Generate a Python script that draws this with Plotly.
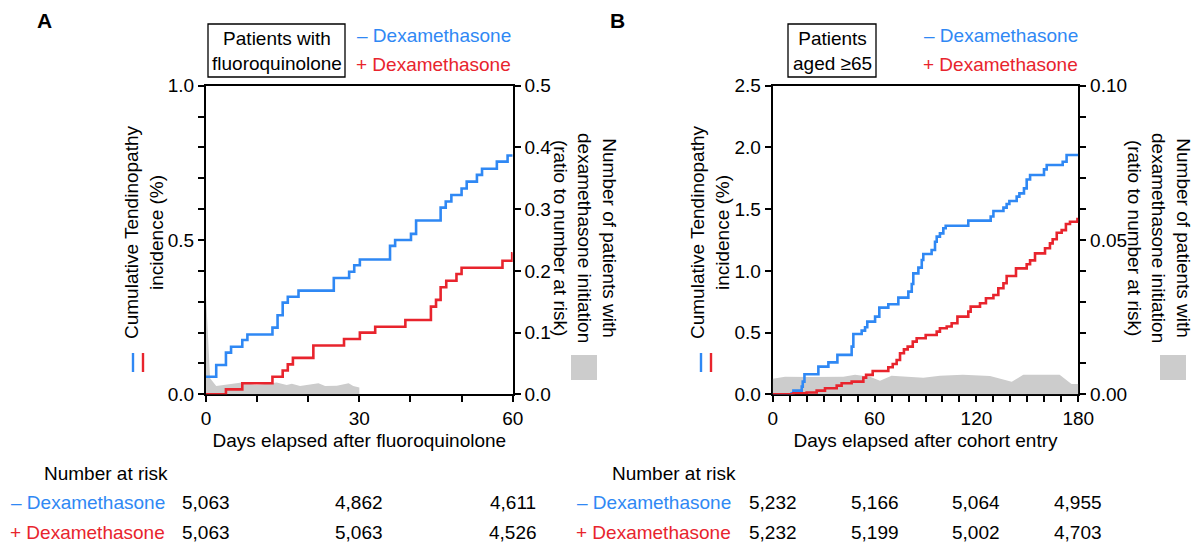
import plotly.graph_objects as go

# ---------------- Data ----------------
# Panel A: patients with fluoroquinolone (days 0-60)
a_minus_days = [0, 2, 3.9, 4.9, 7.1, 8.1, 13, 14, 15, 16, 18.1, 25, 28, 29, 30.1, 36, 37, 40.1, 41.1,
                45.9, 46.9, 48, 50, 51, 53, 54, 56.9, 59, 60]
a_minus_vals = [0.057, 0.095, 0.135, 0.154, 0.176, 0.194, 0.216, 0.256, 0.297, 0.316, 0.336, 0.377, 0.397,
                0.418, 0.437, 0.481, 0.5, 0.52, 0.563, 0.605, 0.625, 0.646, 0.667, 0.689, 0.711, 0.731,
                0.754, 0.774, 0.774]
a_plus_days = [0, 3.9, 7.1, 13, 15, 16, 17, 21, 27, 30.1, 33.1, 39, 44, 45, 45.9, 47, 49, 50, 58, 59.9, 60]
a_plus_vals = [0, 0.016, 0.036, 0.057, 0.077, 0.097, 0.118, 0.158, 0.179, 0.2, 0.219, 0.241, 0.284, 0.306,
               0.347, 0.368, 0.39, 0.41, 0.433, 0.457, 0.457]
a_init_days = [0, 0.8, 2, 3.4, 7, 9.9, 13.8, 15.8, 16.8, 18.4, 22, 23.3, 25.6, 27.9, 28.8, 30]
a_init_vals = [0.16, 0.026, 0.0135, 0.015, 0.019, 0.015, 0.019, 0.015, 0.017, 0.0135, 0.018, 0.0135,
               0.014, 0.018, 0.0135, 0.011]

# Panel B: patients aged >=65 (days 0-180)
b_minus_days = [0, 11.2, 12.2, 17.1, 17.7, 18.7, 26.9, 32.8, 38.1, 46.5, 47.5, 52.4, 54.4, 55.7, 60.3,
                62.8, 68.1, 74.0, 79.9, 81.9, 82.8, 85.8, 87.8, 88.7, 93.6, 95.6, 96.6, 98.5, 100.5,
                101.9, 115.2, 128.4, 130.0, 135.9, 137.8, 139.4, 143.7, 145.3, 148.0, 149.6, 151.6,
                159.8, 161.4, 170.8, 173.1, 180]
b_minus_vals = [0, 0.008, 0.03, 0.062, 0.103, 0.162, 0.224, 0.259, 0.319, 0.386, 0.489, 0.516, 0.543,
                0.589, 0.629, 0.702, 0.729, 0.783, 0.832, 0.894, 0.98, 1.026, 1.088, 1.137, 1.169, 1.236,
                1.277, 1.304, 1.345, 1.366, 1.407, 1.44, 1.485, 1.512, 1.542, 1.566, 1.601, 1.628, 1.668,
                1.74, 1.776, 1.822, 1.857, 1.884, 1.938, 1.938]
b_plus_days = [0, 12.2, 20, 25.9, 30.8, 37.7, 40.6, 46.5, 53.4, 55, 58.9, 68.1, 70.7, 73, 75, 77.3, 79.5,
               82.5, 84.8, 90.1, 96.6, 98.5, 102.5, 105.4, 108.8, 115.2, 116.6, 122.1, 125.6, 130,
               132.9, 135.9, 137.8, 143.3, 149.6, 151.6, 154.5, 160.4, 163.3, 164.9, 167.3, 170.2,
               172.7, 175.1, 179.5, 180]
b_plus_vals = [0, 0.008, 0.014, 0.03, 0.049, 0.07, 0.089, 0.103, 0.135, 0.157, 0.189, 0.219, 0.246,
               0.278, 0.332, 0.364, 0.386, 0.427, 0.454, 0.481, 0.508, 0.535, 0.549, 0.575, 0.629, 0.67,
               0.71, 0.737, 0.778, 0.805, 0.859, 0.9, 0.958, 1.02, 1.053, 1.085, 1.142, 1.183, 1.223,
               1.256, 1.309, 1.33, 1.38, 1.398, 1.42, 1.42]
b_init_days = [0, 7.3, 22, 41.6, 48.5, 57.3, 63.2, 70, 88.7, 98.5, 112, 128, 140.8, 147.6, 169, 176, 180]
b_init_vals = [0.005, 0.0057, 0.0056, 0.0057, 0.0063, 0.0057, 0.0044, 0.006, 0.0054, 0.006, 0.0063,
               0.0059, 0.0041, 0.0063, 0.0063, 0.0033, 0.0033]

# Number at risk tables
risk_a_days = [0, 30, 60]
risk_a_minus = ["5,063", "4,862", "4,611"]
risk_a_plus = ["5,063", "5,063", "4,526"]
risk_b_days = [0, 60, 120, 180]
risk_b_minus = ["5,232", "5,166", "5,064", "4,955"]
risk_b_plus = ["5,232", "5,199", "5,002", "4,703"]

# ---------------- Style ----------------
W, H = 1200, 545
BLUE = "#2F88F4"
RED = "#E8242D"
GRAY = "#CCCCCC"
FONT = "Liberation Sans, Arial, Helvetica, sans-serif"
FS = 19


def px(x):
    return x / W


def py(y):
    return 1 - y / H


fig = go.Figure()

# Panel A
fig.add_trace(go.Scatter(x=a_init_days, y=a_init_vals, mode="lines", fill="tozeroy",
                         line=dict(width=0, color=GRAY), fillcolor=GRAY, xaxis="x", yaxis="y",
                         showlegend=False, hoverinfo="skip"))
fig.add_trace(go.Scatter(x=a_minus_days, y=a_minus_vals, mode="lines", line=dict(color=BLUE, width=2.6, shape="hv"),
                         xaxis="x", yaxis="y2", showlegend=False))
fig.add_trace(go.Scatter(x=a_plus_days, y=a_plus_vals, mode="lines", line=dict(color=RED, width=2.6, shape="hv"),
                         xaxis="x", yaxis="y2", showlegend=False))
# Panel B
fig.add_trace(go.Scatter(x=b_init_days, y=b_init_vals, mode="lines", fill="tozeroy",
                         line=dict(width=0, color=GRAY), fillcolor=GRAY, xaxis="x2", yaxis="y3",
                         showlegend=False, hoverinfo="skip"))
fig.add_trace(go.Scatter(x=b_minus_days, y=b_minus_vals, mode="lines", line=dict(color=BLUE, width=2.6, shape="hv"),
                         xaxis="x2", yaxis="y4", showlegend=False))
fig.add_trace(go.Scatter(x=b_plus_days, y=b_plus_vals, mode="lines", line=dict(color=RED, width=2.6, shape="hv"),
                         xaxis="x2", yaxis="y4", showlegend=False))

dom_y = [py(394.3), py(85.7)]
dom_ax = [px(206), px(512.7)]
dom_bx = [px(772.7), px(1078.3)]

common = dict(showgrid=False, zeroline=False, showline=True, linecolor="black", linewidth=2,
              ticks="outside", ticklen=6, tickwidth=1.6, tickcolor="black", automargin=False,
              tickfont=dict(family=FONT, size=FS, color="black"), layer="below traces")


def minor(d):
    return dict(dtick=d, ticks="outside", ticklen=6, tickwidth=1.6, tickcolor="black", showgrid=False)


fig.update_layout(
    width=W, height=H, margin=dict(l=0, r=0, t=0, b=0, pad=0, autoexpand=False), autosize=False,
    paper_bgcolor="white", plot_bgcolor="rgba(0,0,0,0)", showlegend=False,
    font=dict(family=FONT, size=FS, color="black"),
    xaxis=dict(domain=dom_ax, anchor="y", range=[0, 60], tick0=0, dtick=30, minor=minor(10), mirror=True,
               title=dict(text="Days elapsed after fluoroquinolone", font=dict(family=FONT, size=FS), standoff=6),
               **common),
    yaxis=dict(domain=dom_y, anchor="x", side="right", range=[0, 0.5], tick0=0, dtick=0.1, tickformat=".1f",
               **common),
    yaxis2=dict(domain=dom_y, anchor="x", overlaying="y", side="left", range=[0, 1.0], tick0=0, dtick=0.5,
                tickformat=".1f", minor=minor(0.1), **common),
    xaxis2=dict(domain=dom_bx, anchor="y3", range=[0, 180], tick0=0, dtick=60, minor=minor(10), mirror=True,
                title=dict(text="Days elapsed after cohort entry", font=dict(family=FONT, size=FS), standoff=6),
                **common),
    yaxis3=dict(domain=dom_y, anchor="x2", side="right", range=[0, 0.1], tick0=0, dtick=0.05, tickformat=".2f",
                minor=minor(0.01), **common),
    yaxis4=dict(domain=dom_y, anchor="x2", overlaying="y3", side="left", range=[0, 2.5], tick0=0, dtick=0.5,
                tickformat=".1f", **common),
)

ann = []
shapes = []


def text(x, y, s, color="black", size=FS, xanchor="center", angle=0, bold=False, xref="paper"):
    ann.append(dict(x=x, y=py(y), xref=xref, yref="paper", text=("<b>%s</b>" % s) if bold else s,
                    showarrow=False, xanchor=xanchor, yanchor="middle", textangle=angle,
                    font=dict(family=FONT, size=size, color=color)))


# Panel letters
text(px(44), 21, "A", size=21, bold=True)
text(px(617), 21, "B", size=21, bold=True)

# Boxes with cohort labels
for (x0, x1, label) in [(208, 345, "Patients with<br>fluoroquinolone"), (788, 876, "Patients<br>aged ≥65")]:
    shapes.append(dict(type="rect", xref="paper", yref="paper", x0=px(x0), x1=px(x1), y0=py(77), y1=py(24),
                       line=dict(color="black", width=1.3), fillcolor="white"))
    text(px((x0 + x1) / 2), 51, label)

# Legends
for xr in (513, 1080):
    text(px(xr), 35, "– Dexamethasone", color=BLUE, xanchor="right")
    text(px(xr), 64, "+ Dexamethasone", color=RED, xanchor="right")

# Left y titles with colored bars
for (xc, bx) in [(144, 133), (710, 701)]:
    text(px(xc), 232, "Cumulative Tendinopathy<br>incidence (%)", angle=-90)
    shapes.append(dict(type="line", xref="paper", yref="paper", x0=px(bx), x1=px(bx), y0=py(353), y1=py(372),
                       line=dict(color=BLUE, width=2.4)))
    shapes.append(dict(type="line", xref="paper", yref="paper", x0=px(bx + 10), x1=px(bx + 10), y0=py(353),
                       y1=py(372), line=dict(color=RED, width=2.4)))

# Right y titles with gray squares
for (xc, sx) in [(585, 571), (1159, 1160)]:
    text(px(xc), 238, "Number of patients with<br>dexamethasone initiation<br>(ratio to number at risk)", angle=90)
    shapes.append(dict(type="rect", xref="paper", yref="paper", x0=px(sx), x1=px(sx + 26), y0=py(380), y1=py(355),
                       line=dict(width=0), fillcolor=GRAY))

# Number at risk tables
text(px(42), 473, "Number at risk", xanchor="left")
text(px(167), 502, "– Dexamethasone", color=BLUE, xanchor="right")
text(px(167), 532, "+ Dexamethasone", color=RED, xanchor="right")
for d, m, p in zip(risk_a_days, risk_a_minus, risk_a_plus):
    text(d, 502, m, xref="x")
    text(d, 532, p, xref="x")

text(px(610), 473, "Number at risk", xanchor="left")
text(px(733), 502, "– Dexamethasone", color=BLUE, xanchor="right")
text(px(733), 532, "+ Dexamethasone", color=RED, xanchor="right")
for d, m, p in zip(risk_b_days, risk_b_minus, risk_b_plus):
    text(d, 502, m, xref="x2")
    text(d, 532, p, xref="x2")

fig.update_layout(annotations=ann, shapes=shapes)
fig.write_html("out.html", config={"displayModeBar": False},
               post_script="document.body.style.margin='0';document.body.style.padding='0';"
                           "document.body.style.overflow='hidden';")
